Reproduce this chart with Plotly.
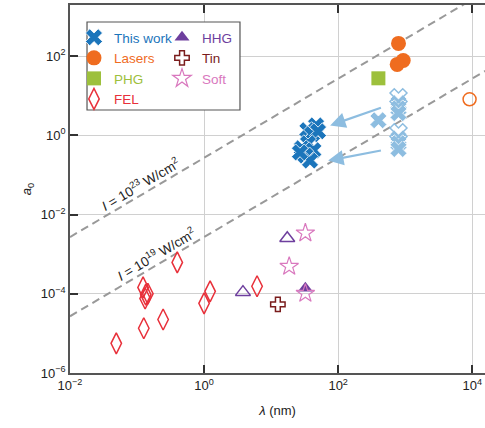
import numpy as np
import plotly.graph_objects as go

# ---------------- data (lambda in nm, a0) ----------------
tw_lam = [46.8, 34.7, 40.7, 50.1, 35.5, 28.8, 42.7, 32.4, 38.0, 26.9]
tw_a0 = [1.78, 1.35, 1.07, 1.26, 0.63, 0.47, 0.42, 0.31, 0.23, 0.37]

lb_lam = [398, 794, 794, 794, 794, 794, 794]
lb_a0 = [2.40, 6.46, 4.79, 3.63, 0.83, 0.63, 0.45]
lbo_lam = [794, 794]
lbo_a0 = [9.12, 1.20]

las_lam = [794, 933, 759]
las_a0 = [209, 77.6, 61.7]
laso_lam = [9120]
laso_a0 = [8.13]

phg_lam = [398]
phg_a0 = [27.5]

fel_lam = [0.049, 0.126, 0.245, 0.398, 1.00, 1.23, 6.17, 0.123, 0.135, 0.145, 0.132]
fel_a0 = [5.6e-6, 1.35e-5, 2.24e-5, 6.2e-4, 5.75e-5, 1.15e-4, 1.55e-4, 1.45e-4, 9.5e-5, 1.0e-4, 7.6e-5]

hhg_lam = [32.4]
hhg_a0 = [1.38e-4]
hhgo_lam = [3.80, 17.4]
hhgo_a0 = [1.10e-4, 2.51e-3]

tin_lam = [12.6]
tin_a0 = [5.4e-5]

soft_lam = [32.4, 18.6, 32.4]
soft_a0 = [3.4e-3, 4.9e-4, 1.02e-4]

line_I = [1e23, 1e19]          # W/cm^2
line_lam = [1e-2, 2e4]         # nm, line extent

# arrows: (tail lambda, tail a0, head lambda, head a0)
arr_tail_lam = [457, 457]
arr_tail_a0 = [5.1, 0.42]
arr_head_lam = [75.9, 70.8]
arr_head_a0 = [1.78, 0.23]

xtick_vals = [1e-2, 1, 1e2, 1e4]
ytick_vals = [1e-6, 1e-4, 1e-2, 1, 1e2]

# ---------------- colours ----------------
C_TW = "#1b75bb"
C_LB = "#8dbde0"
C_LAS = "#ef6c1f"
C_PHG = "#9dc03c"
C_FEL = "#e8303a"
C_HHG = "#6e3f9e"
C_TIN = "#7a1c1c"
C_SOFT = "#d978be"

def lbl(name, c):
    return f'<span style="color:{c}">{name}</span>'

fig = go.Figure()

# guide lines (a0 = 0.855e-3 * lambda[nm] * sqrt(I/1e18))
for I in line_I:
    ys = [0.855e-3 * l * np.sqrt(I / 1e18) for l in line_lam]
    fig.add_trace(go.Scatter(x=line_lam, y=ys, mode="lines", showlegend=False,
                             line=dict(color="#999999", width=2, dash="8px,5px"),
                             hoverinfo="skip"))

# legend column 1
fig.add_trace(go.Scatter(x=tw_lam, y=tw_a0, mode="markers", name=lbl("This work", C_TW), legend="legend",
                         marker=dict(symbol="x", size=15, color=C_TW, line=dict(color="white", width=0.8))))
fig.add_trace(go.Scatter(x=las_lam, y=las_a0, mode="markers", name=lbl("Lasers", C_LAS), legend="legend",
                         marker=dict(symbol="circle", size=15, color=C_LAS)))
fig.add_trace(go.Scatter(x=phg_lam, y=phg_a0, mode="markers", name=lbl("PHG", C_PHG), legend="legend",
                         marker=dict(symbol="square", size=14, color=C_PHG)))
fig.add_trace(go.Scatter(x=fel_lam, y=fel_a0, mode="markers", name=lbl("FEL", C_FEL), legend="legend",
                         marker=dict(symbol="diamond-tall-open", size=15, color=C_FEL, line=dict(width=1.5))))
# legend column 2
fig.add_trace(go.Scatter(x=hhg_lam, y=hhg_a0, mode="markers", name=lbl("HHG", C_HHG), legend="legend2",
                         marker=dict(symbol="triangle-up", size=13, color=C_HHG)))
fig.add_trace(go.Scatter(x=tin_lam, y=tin_a0, mode="markers", name=lbl("Tin", C_TIN), legend="legend2",
                         marker=dict(symbol="cross-open", size=12, color=C_TIN, line=dict(width=1.5))))
fig.add_trace(go.Scatter(x=soft_lam, y=soft_a0, mode="markers", name=lbl("Soft", C_SOFT), legend="legend2",
                         marker=dict(symbol="star-open", size=14, color=C_SOFT, line=dict(width=1.2))))

# extra (non-legend) traces
fig.add_trace(go.Scatter(x=hhgo_lam, y=hhgo_a0, mode="markers", showlegend=False,
                         marker=dict(symbol="triangle-up-open", size=13, color=C_HHG, line=dict(width=1.5))))
fig.add_trace(go.Scatter(x=laso_lam, y=laso_a0, mode="markers", showlegend=False,
                         marker=dict(symbol="circle-open", size=13, color=C_LAS, line=dict(width=1.5))))
fig.add_trace(go.Scatter(x=lb_lam, y=lb_a0, mode="markers", showlegend=False,
                         marker=dict(symbol="x", size=15, color=C_LB, line=dict(color="white", width=0.8))))
fig.add_trace(go.Scatter(x=lbo_lam, y=lbo_a0, mode="markers", showlegend=False,
                         marker=dict(symbol="x-open", size=15, color=C_LB, line=dict(width=1.5))))

# arrows
for tl, ta, hl, ha in zip(arr_tail_lam, arr_tail_a0, arr_head_lam, arr_head_a0):
    fig.add_annotation(x=np.log10(hl), y=np.log10(ha), ax=np.log10(tl), ay=np.log10(ta),
                       xref="x", yref="y", axref="x", ayref="y", text="", showarrow=True,
                       arrowhead=2, arrowsize=1.4, arrowwidth=2.2, arrowcolor=C_LB)

# line labels
fig.add_annotation(x=-0.955, y=-1.22, xref="x", yref="y", showarrow=False, textangle=-30.6,
                   text="<i>I</i> = 10<sup>23</sup> W/cm<sup>2</sup>",
                   font=dict(size=13.5, color="#222222"))
fig.add_annotation(x=-0.72, y=-2.99, xref="x", yref="y", showarrow=False, textangle=-30.6,
                   text="<i>I</i> = 10<sup>19</sup> W/cm<sup>2</sup>",
                   font=dict(size=13.5, color="#222222"))

# a0 = 1 line
fig.add_shape(type="line", xref="paper", yref="y", x0=0, x1=1, y0=0, y1=0,
              line=dict(color="#333333", width=1.8), layer="below")
# legend frame
fig.add_shape(type="rect", xref="paper", yref="paper", x0=0.041, x1=0.4096, y0=0.7147, y1=0.9538,
              line=dict(color="#555555", width=1.2), fillcolor="white", layer="above")

leg_common = dict(orientation="v", xanchor="left", yanchor="top", borderwidth=0,
                  bgcolor="rgba(0,0,0,0)", itemsizing="trace", font=dict(size=13.5),
                  tracegroupgap=0)
fig.update_layout(
    width=485, height=428,
    margin=dict(l=70, r=0, t=5, b=55),
    paper_bgcolor="white", plot_bgcolor="white",
    font=dict(family="Liberation Sans, Arial, sans-serif", size=13, color="#222222"),
    legend=dict(x=0.0096, y=0.9538, **leg_common),
    legend2=dict(x=0.2217, y=0.9538, **leg_common),
    showlegend=True,
)
fig.update_xaxes(type="log", range=[-2, 4.19], tickvals=xtick_vals,
                 ticktext=["10<sup>\u22122</sup>", "10<sup>0</sup>", "10<sup>2</sup>", "10<sup>4</sup>"],
                 ticks="inside", ticklen=8, tickcolor="#333333", tickwidth=1.5,
                 showline=True, linecolor="#555555", linewidth=1.5, mirror="ticks",
                 showgrid=True, gridcolor="#d0d0d0", gridwidth=1, zeroline=False,
                 title=dict(text="<i>λ</i> (nm)", font=dict(size=13), standoff=14))
fig.update_yaxes(type="log", range=[-6, 3.29], tickvals=ytick_vals,
                 ticktext=["10<sup>\u22126</sup>", "10<sup>\u22124</sup>", "10<sup>\u22122</sup>", "10<sup>0</sup>", "10<sup>2</sup>"],
                 ticks="inside", ticklen=8, tickcolor="#333333", tickwidth=1.5,
                 showline=True, linecolor="#555555", linewidth=1.5, mirror=False,
                 showgrid=True, gridcolor="#d0d0d0", gridwidth=1, zeroline=False,
                 title=dict(text="<i>a</i><sub>0</sub>", font=dict(size=13), standoff=6))

fig.write_html("out.html", config={"displayModeBar": False},
               post_script="document.body.style.margin='0';document.body.style.overflow='hidden';")
